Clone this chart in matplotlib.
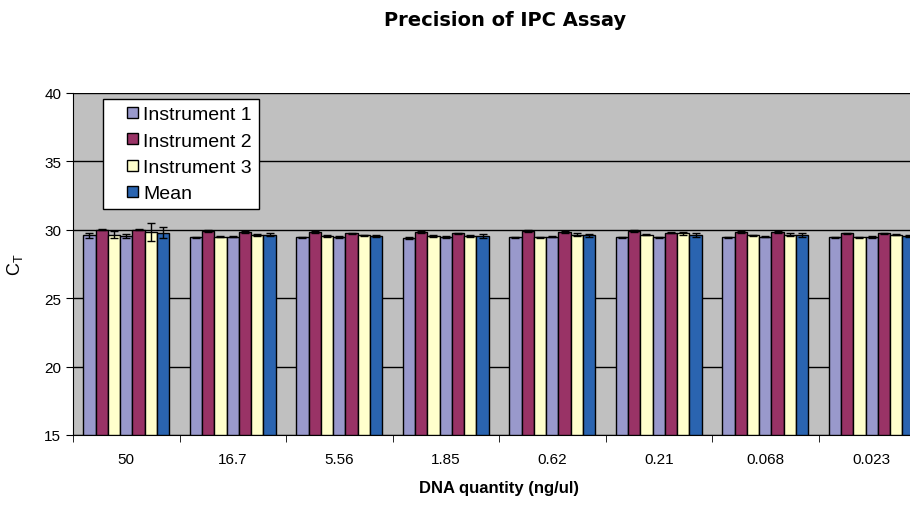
import numpy as np
import matplotlib.pyplot as plt
from matplotlib.patches import Patch, Rectangle
from matplotlib.legend_handler import HandlerPatch

plt.rcParams['font.family'] = ['Liberation Sans', 'DejaVu Sans']

quantities = ["50", "16.7", "5.56", "1.85", "0.62", "0.21", "0.068", "0.023"]

# two runs per instrument, then the mean
inst1_a = [29.60, 29.45, 29.45, 29.40, 29.45, 29.45, 29.45, 29.45]
inst2_a = [30.00, 29.90, 29.85, 29.85, 29.90, 29.90, 29.85, 29.75]
inst3_a = [29.65, 29.50, 29.55, 29.55, 29.45, 29.65, 29.60, 29.45]
inst1_b = [29.55, 29.50, 29.50, 29.50, 29.50, 29.45, 29.50, 29.50]
inst2_b = [30.00, 29.85, 29.75, 29.75, 29.85, 29.80, 29.85, 29.75]
inst3_b = [29.85, 29.60, 29.60, 29.55, 29.65, 29.75, 29.65, 29.65]
mean_ct = [29.80, 29.65, 29.55, 29.55, 29.60, 29.60, 29.60, 29.55]

err1_a = [0.20, 0.05, 0.05, 0.05, 0.05, 0.05, 0.05, 0.05]
err2_a = [0.05, 0.05, 0.05, 0.05, 0.05, 0.05, 0.05, 0.05]
err3_a = [0.25, 0.05, 0.05, 0.05, 0.05, 0.05, 0.05, 0.05]
err1_b = [0.17, 0.05, 0.07, 0.07, 0.05, 0.05, 0.05, 0.07]
err2_b = [0.05, 0.05, 0.05, 0.05, 0.05, 0.05, 0.05, 0.05]
err3_b = [0.65, 0.08, 0.05, 0.05, 0.10, 0.12, 0.08, 0.05]
err_mean = [0.39, 0.08, 0.10, 0.12, 0.12, 0.15, 0.15, 0.10]

c1, c2, c3, cm = '#9999CC', '#993366', '#FFFFCC', '#2A64B0'

series = [
    (inst1_a, err1_a, c1),
    (inst2_a, err2_a, c2),
    (inst3_a, err3_a, c3),
    (inst1_b, err1_b, c1),
    (inst2_b, err2_b, c2),
    (inst3_b, err3_b, c3),
    (mean_ct, err_mean, cm),
]
legend_labels = ['Instrument 1', 'Instrument 2', 'Instrument 3', 'Mean']
legend_colors = [c1, c2, c3, cm]

fig = plt.figure(figsize=(9.1, 5.06), dpi=100)
ax = fig.add_axes([73 / 910, 70 / 506, 852 / 910, 342 / 506])
ax.set_facecolor('#C0C0C0')

x = np.arange(len(quantities))
w = 0.1154
for i, (vals, errs, col) in enumerate(series):
    ax.bar(x + (i - 3) * w, np.array(vals) - 15, w, bottom=15, color=col,
           edgecolor='black', linewidth=1.0, zorder=3)
    ax.errorbar(x + (i - 3) * w, vals, yerr=errs, fmt='none', ecolor='black',
                elinewidth=1, capsize=3, capthick=1, zorder=4)

ax.set_ylim(15, 40)
ax.set_xlim(-0.5, len(quantities) - 0.5)
ax.set_yticks([15, 20, 25, 30, 35, 40])
ax.yaxis.grid(True, color='black', linewidth=1)
ax.set_axisbelow(True)
ax.set_xticks(x)
ax.set_xticklabels(quantities, fontsize=11)
ax.set_xticks(np.arange(len(quantities) + 1) - 0.5, minor=True)
ax.tick_params(axis='x', which='major', length=0, pad=12)
ax.tick_params(axis='x', which='minor', length=5, direction='out')
ax.tick_params(axis='y', length=5, direction='out', labelsize=11)
for s in ['top', 'right']:
    ax.spines[s].set_visible(False)

ax.set_xlabel('DNA quantity (ng/ul)', fontsize=12, fontweight='bold', labelpad=10)
ax.set_ylabel('C$_\\mathregular{T}$', fontsize=13, labelpad=14)


# small square sitting at the right end of the handle box (Excel style)
def square(legend, orig_handle, xdescent, ydescent, width, height, fontsize):
    s = 8
    return Rectangle((-xdescent + width - s, -ydescent + (height - s) / 2), s, s)


proxies = [Patch(facecolor=c, edgecolor='black', linewidth=1) for c in legend_colors]
leg = ax.legend(proxies, legend_labels, loc='upper left',
                bbox_to_anchor=(0.035, 0.983), borderaxespad=0, fontsize=14,
                frameon=True, fancybox=False, handlelength=1.44, handleheight=0.7,
                handletextpad=0.3, labelspacing=0.45, borderpad=0.35,
                edgecolor='black', framealpha=1,
                handler_map={Patch: HandlerPatch(patch_func=square)})
leg.get_frame().set_linewidth(1)
leg.get_frame().set_facecolor('white')
leg.set_zorder(10)

fig.text(505 / 910, 1 - 20 / 506, 'Precision of IPC Assay', fontsize=14,
         fontweight='bold', ha='center', va='center', family='DejaVu Sans')

fig.savefig('out.png', dpi=100)
